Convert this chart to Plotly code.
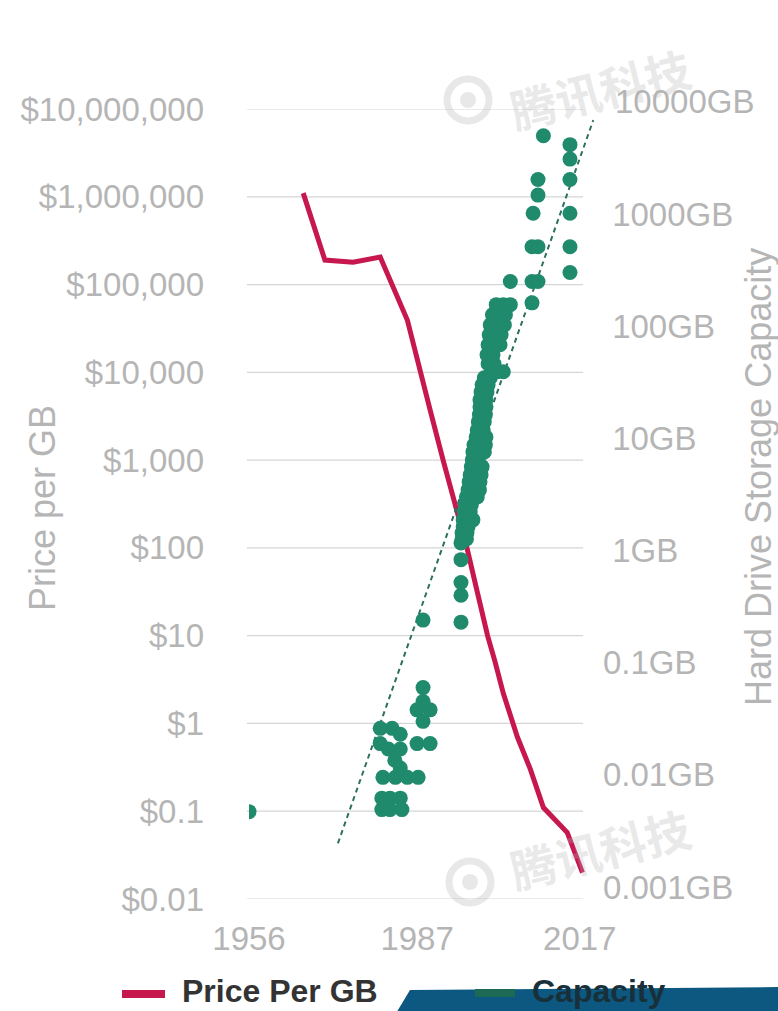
import plotly.graph_objects as go

# ---- data -------------------------------------------------------------
price_years = [1966.0, 1970.0, 1975.2, 1980.2, 1985.2, 1987.0, 1989.4, 1991.8,
               1994.0, 1996.2, 1998.1, 2000.0, 2001.4, 2002.9, 2005.5, 2007.9,
               2010.3, 2014.7, 2017.5]
price_usd = [1100000, 190000, 180000, 206000, 39500, 13800, 3730, 1000,
             309, 100, 31.5, 10, 5.0, 2.2, 0.70, 0.30, 0.11, 0.057, 0.020]

cap_years = [
    1956.0,
    # 1980s drives
    1988.1, 1988.1, 1988.1, 1987.0, 1989.4, 1988.1, 1987.0, 1989.4,
    1980.2, 1982.4, 1980.2, 1983.9, 1981.7, 1983.9, 1982.9,
    1980.7, 1983.0, 1985.2, 1987.2, 1983.9,
    1980.5, 1982.0, 1983.9, 1980.5, 1982.0, 1984.2,
    # 1990s
    1995.1, 1995.1, 1995.1, 1995.1, 1995.1,
    1995.3, 1996.1,
    1995.3, 1996.2,
    1995.5, 1996.4,
    1995.5, 1996.4, 1997.3,
    1995.7, 1996.8,
    1995.9, 1997.0,
    1996.1, 1997.2, 1998.1,
    1996.4, 1997.5, 1998.5,
    1996.6, 1997.7, 1998.6,
    1996.8, 1997.9, 1998.8,
    1997.0, 1998.1, 1999.0,
    1997.2, 1998.3,
    1997.3, 1998.5, 1999.4,
    1997.5, 1998.6, 1999.6,
    1997.9, 1999.0, 1999.7,
    1998.1, 1999.2,
    1998.3, 1999.4,
    1998.5, 1999.6,
    1998.6, 1999.7,
    1998.6, 1999.7,
    1998.8, 1999.9,
    1999.0, 2000.1,
    1999.4, 2000.5,
    2000.7, 2001.8, 2002.9,
    2000.1, 2001.2,
    1999.9, 2001.0,
    2000.1, 2001.2, 2002.3,
    2000.3, 2001.4, 2002.5,
    2000.5, 2001.8, 2003.1,
    2000.9, 2002.1, 2003.3,
    2001.6, 2002.9, 2004.2,
    # 2000s-2010s
    2004.2, 2008.2, 2009.3, 2008.2, 2008.2, 2009.3, 2008.4, 2009.3, 2009.3,
    2010.3,
    2015.2, 2015.2, 2015.2, 2015.2, 2015.2, 2015.2,
]
cap_gb = [
    0.0047,
    0.24, 0.060, 0.045, 0.038, 0.038, 0.030, 0.019, 0.019,
    0.026, 0.026, 0.019, 0.023, 0.017, 0.017, 0.0135,
    0.0095, 0.0095, 0.0095, 0.0095, 0.0115,
    0.0062, 0.0062, 0.0062, 0.0049, 0.0049, 0.0049,
    0.23, 0.40, 0.52, 0.83, 1.17,
    1.27, 1.27,
    1.44, 1.44,
    1.63, 1.63,
    1.88, 1.88, 1.88,
    2.21, 2.21,
    2.56, 2.56,
    3.01, 3.01, 3.01,
    3.48, 3.48, 3.48,
    4.10, 4.10, 4.10,
    4.73, 4.73, 4.73,
    5.58, 5.58, 5.58,
    6.44, 6.44,
    7.59, 7.59, 7.59,
    8.77, 8.77, 8.77,
    10.3, 10.3, 10.3,
    11.9, 11.9,
    14.1, 14.1,
    16.3, 16.3,
    19.1, 19.1,
    22.1, 22.1,
    26.0, 26.0,
    30.1, 30.1,
    34.8, 34.8,
    39.3, 39.3, 39.3,
    46.3, 46.3,
    55.7, 55.7,
    68.4, 68.4, 68.4,
    84.0, 84.0, 84.0,
    103, 103, 103,
    127, 127, 127,
    156, 156, 156,
    251, 251, 251, 162, 513, 513, 1020, 1480, 2040,
    5000,
    4170, 3100, 2040, 1020, 513, 302,
]

trend_years = [1972.4, 2019.5]
trend_gb = [0.00245, 6900]

price_ticks = [0.01, 0.1, 1, 10, 100, 1000, 10000, 100000, 1000000, 10000000]
price_labels = ["$0.01", "$0.1", "$1", "$10", "$100", "$1,000", "$10,000",
                "$100,000", "$1,000,000", "$10,000,000"]
cap_ticks = [0.001, 0.01, 0.1, 1, 10, 100, 1000]
cap_labels = ["0.001GB", "0.01GB", "0.1GB", "\u00a01GB", "\u00a010GB",
              "\u00a0100GB", "\u00a01000GB"]
cap_top_label = "10000GB"
year_ticks = [1956, 1987, 2017]

# ---- styling ----------------------------------------------------------
RED = "#c6174e"
GREEN = "#1f8a6c"
DASH = "#2f6f62"
GREY = "#b5b5b5"
GRID = "#d6d6d6"
FONT = "Liberation Sans, Arial, sans-serif"
WATER = "rgba(180,180,180,0.30)"

W, H = 778, 1011
L, R, T, B = 249, 182, 109, 112
PW, PH = W - L - R, H - T - B


def px(x, y):
    """Page pixel -> paper coordinates."""
    return (x - L) / PW, (H - B - y) / PH


fig = go.Figure()

fig.add_trace(go.Scatter(
    x=price_years, y=price_usd, mode="lines", name="Price Per GB",
    line=dict(color=RED, width=5), yaxis="y", showlegend=False,
))
fig.add_trace(go.Scatter(
    x=trend_years, y=trend_gb, mode="lines", yaxis="y2", showlegend=False,
    line=dict(color=DASH, width=2, dash="5px,4px"),
))
fig.add_trace(go.Scatter(
    x=cap_years, y=cap_gb, mode="markers", name="Capacity", yaxis="y2",
    marker=dict(color=GREEN, size=15, line=dict(width=0)), showlegend=False,
))

shapes = []
# horizontal gridlines at each price decade
for v in price_ticks:
    shapes.append(dict(type="line", xref="x domain", yref="y",
                       x0=-0.006, x1=0.963, y0=v, y1=v,
                       line=dict(color=GRID, width=1.2), layer="below"))

# dark band along the bottom edge
bx0, by0 = px(392, 1020)
bx1, by1 = px(410, 990)
bx2, by2 = px(790, 987)
bx3, by3 = px(790, 1020)
shapes.append(dict(type="path", xref="paper", yref="paper",
                   path=f"M {bx0} {by0} L {bx1} {by1} L {bx2} {by2} L {bx3} {by3} Z",
                   fillcolor="#0d5880", line=dict(width=0)))

# legend swatches
for (xa, xb, yy, col) in [(122, 165, 994, RED), (475, 515, 993, "#1c6a55")]:
    x0, y0 = px(xa, yy)
    x1, _ = px(xb, yy)
    shapes.append(dict(type="line", xref="paper", yref="paper",
                       x0=x0, x1=x1, y0=y0, y1=y0,
                       line=dict(color=col, width=8)))

# watermark logos
for (cx, cy) in [(468, 100), (470, 882)]:
    ax0, ay0 = px(cx - 21, cy - 21)
    ax1, ay1 = px(cx + 21, cy + 21)
    shapes.append(dict(type="circle", xref="paper", yref="paper",
                       x0=ax0, x1=ax1, y0=ay0, y1=ay1,
                       line=dict(color=WATER, width=7),
                       fillcolor="rgba(0,0,0,0)"))
    ix0, iy0 = px(cx - 8, cy - 8)
    ix1, iy1 = px(cx + 8, cy + 8)
    shapes.append(dict(type="circle", xref="paper", yref="paper",
                       x0=ix0, x1=ix1, y0=iy0, y1=iy1,
                       line=dict(width=0), fillcolor=WATER))

annotations = []
lx, ly = px(42, 508)
annotations.append(dict(text="Price per GB", x=lx, y=ly, xref="paper", yref="paper",
                        textangle=-90, showarrow=False, xanchor="center", yanchor="middle",
                        font=dict(family=FONT, size=36, color=GREY)))
rx, ry = px(758, 477)
annotations.append(dict(text="Hard Drive Storage Capacity", x=rx, y=ry, xref="paper",
                        yref="paper", textangle=-90, showarrow=False,
                        xanchor="center", yanchor="middle",
                        font=dict(family=FONT, size=36, color=GREY)))

# top right-axis label sits just above the plotted range
kx, ky = px(613, 102)
annotations.append(dict(text=cap_top_label, x=kx, y=ky, xref="paper", yref="paper",
                        showarrow=False, xanchor="left", yanchor="middle",
                        font=dict(family=FONT, size=33, color=GREY)))

tx, ty = px(180, 991)
annotations.append(dict(text="<b>Price Per GB</b>", x=tx, y=ty, xref="paper", yref="paper",
                        showarrow=False, xanchor="left", yanchor="middle",
                        font=dict(family=FONT, size=32, color="#333333")))
tx, ty = px(530, 991)
annotations.append(dict(text="<b>Capacity</b>", x=tx, y=ty, xref="paper", yref="paper",
                        showarrow=False, xanchor="left", yanchor="middle",
                        font=dict(family=FONT, size=32, color="#18303a")))

# watermark text
for (cx, cy) in [(600, 88), (600, 848)]:
    wx, wy = px(cx, cy)
    annotations.append(dict(text="<b>腾讯科技</b>", x=wx, y=wy, xref="paper", yref="paper",
                            showarrow=False, textangle=-14,
                            xanchor="center", yanchor="middle",
                            font=dict(family="Noto Sans CJK SC", size=46, color=WATER)))

tickfont = dict(family=FONT, size=33, color=GREY)

fig.update_layout(
    width=W, height=H, autosize=False,
    margin=dict(l=L, r=R, t=T, b=B, pad=0),
    paper_bgcolor="white", plot_bgcolor="white",
    showlegend=False,
    shapes=shapes, annotations=annotations,
    xaxis=dict(range=[1956, 2020], tickvals=year_ticks, ticktext=[str(y) for y in year_ticks],
               showgrid=False, zeroline=False, showline=False, ticks="",
               tickfont=tickfont, ticklabelstandoff=17),
    yaxis=dict(type="log", range=[-2, 7], tickvals=price_ticks, ticktext=price_labels,
               showgrid=False, zeroline=False, showline=False, ticks="",
               tickfont=tickfont, ticklabelstandoff=44),
    yaxis2=dict(type="log", range=[-3.107, 3.938], overlaying="y", side="right",
                tickvals=cap_ticks, ticktext=cap_labels,
                showgrid=False, zeroline=False, showline=False, ticks="",
                tickfont=tickfont, ticklabelstandoff=6),
)

fig.write_html("out.html")
